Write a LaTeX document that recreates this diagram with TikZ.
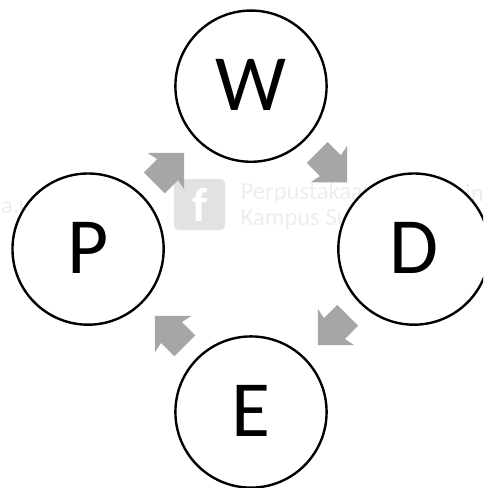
\documentclass[tikz,border=0pt]{standalone}
\usepackage{fontspec}
\setmainfont{Carlito}
\usetikzlibrary{positioning}
\usetikzlibrary{calc}
\usetikzlibrary{shapes.arrows}
\definecolor{flowgray}{HTML}{A6A6A6}
\definecolor{markgray}{HTML}{E2E2E2}
\definecolor{marktext}{HTML}{EDEDED}

\begin{document}
\begin{tikzpicture}[
    % Define the style for the nodes
    phase/.style={circle, draw=black, fill=white, line width=1.8pt, minimum size=4cm, inner sep=0pt, text depth=0.08cm, font=\fontsize{60}{64}\selectfont},
    flow/.style={single arrow, fill=flowgray, anchor=tail, minimum height=1.12cm, single arrow head extend=0.29cm, single arrow head indent=0.06cm, inner xsep=0pt, inner ysep=0.384cm},
    marktxt/.style={anchor=west, text=marktext, inner sep=0pt, font=\fontsize{18.5}{20}\selectfont}
]

    \clip (0,0) rectangle (12.78,12.91);

    % watermark
    \node[fill=markgray, rounded corners=0.12cm, minimum size=1.35cm, inner sep=0pt, text=white, font=\bfseries\fontsize{36}{36}\selectfont] (logo) at (5.28,7.5) {f};
    \node[marktxt, right=0.4cm of logo, yshift=0.3cm] (mark1) {Perpustakaan};
    \node[marktxt] (mark2) at ($(mark1.west)+(0,-0.69)$) {Kampus Su};
    \node[marktxt] (mark3) at (0.02,7.43) {a.u};
    \node[marktxt] (mark4) at (12.3,7.8) {in};

    % circles
    \node[phase] (W) at (6.64,10.63) {W};
    \node[phase, on grid, below right=4.31cm and 4.31cm of W] (D) {D};
    \node[phase, on grid, below left=4.31cm and 4.31cm of D] (E) {E};
    \node[phase, on grid, above left=4.31cm and 4.31cm of E] (P) {P};

    % arrows between the circles
    \foreach \a/\b/\r in {W/D/-45, D/E/-135, E/P/135, P/W/45} {
        \node[flow, rotate=\r] (\a-\b) at ($(\a)!0.405!(\b)$) {};
    }

\end{tikzpicture}
\end{document}
